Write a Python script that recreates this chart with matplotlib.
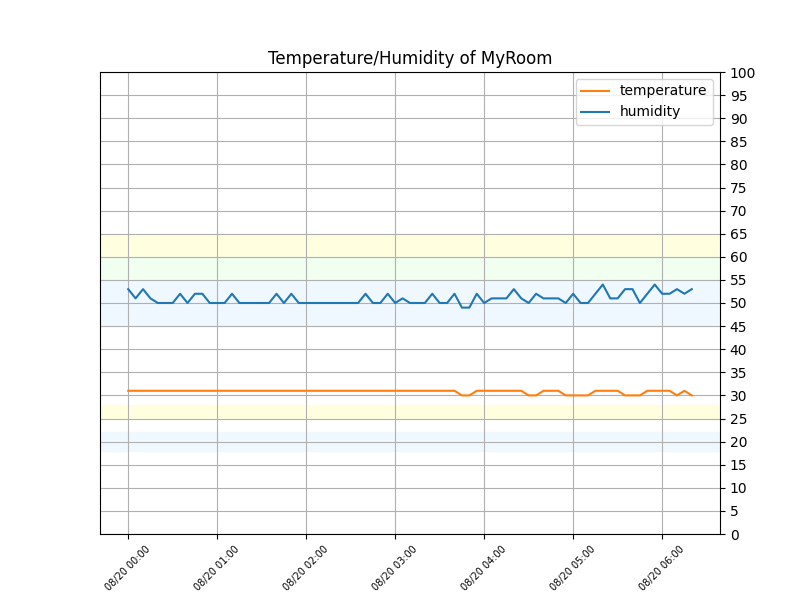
import datetime
import matplotlib
matplotlib.use("Agg")
import matplotlib.pyplot as plt
import matplotlib.dates as mdates

# readings every 5 minutes from 08/20 00:00
start = datetime.datetime(2019, 8, 20, 0, 0)
step_minutes = 5

humidity = [53, 51, 53, 51, 50, 50, 50, 52, 50, 52, 52, 50, 50, 50, 52, 50,
            50, 50, 50, 50, 52, 50, 52, 50, 50, 50, 50, 50, 50, 50, 50, 50,
            52, 50, 50, 52, 50, 51, 50, 50, 50, 52, 50, 50, 52, 49, 49, 52,
            50, 51, 51, 51, 53, 51, 50, 52, 51, 51, 51, 50, 52, 50, 50, 52,
            54, 51, 51, 53, 53, 50, 52, 54, 52, 52, 53, 52, 53]
temperature = [31] * 45 + [30, 30, 31, 31, 31, 31, 31, 31, 31, 30, 30, 31,
                           31, 31, 30, 30, 30, 30, 31, 31, 31, 31, 30, 30,
                           30, 31, 31, 31, 31, 30, 31, 30]

# comfort bands (low, high, colour)
bands = [(60, 65, "lightyellow"), (55, 60, "honeydew"), (45, 55, "aliceblue"),
         (25, 28, "lightyellow"), (18, 22, "aliceblue")]

times = [start + datetime.timedelta(minutes=step_minutes * i)
         for i in range(len(humidity))]

fig, ax = plt.subplots(figsize=(8, 6), dpi=100)

for low, high, color in bands:
    ax.axhspan(low, high, color=color, zorder=0)

ax.plot(times, temperature, color="tab:orange", label="temperature")
ax.plot(times, humidity, color="tab:blue", label="humidity")

ax.set_title("Temperature/Humidity of MyRoom")
ax.set_ylim(0, 100)
ax.set_yticks(range(0, 101, 5))
ax.yaxis.tick_right()
ax.xaxis.set_major_locator(mdates.HourLocator())
ax.xaxis.set_major_formatter(mdates.DateFormatter("%m/%d %H:%M"))
plt.setp(ax.get_xticklabels(), rotation=45, fontsize=7)
ax.grid(True)
ax.legend(loc="upper right")

fig.savefig("out.png")
